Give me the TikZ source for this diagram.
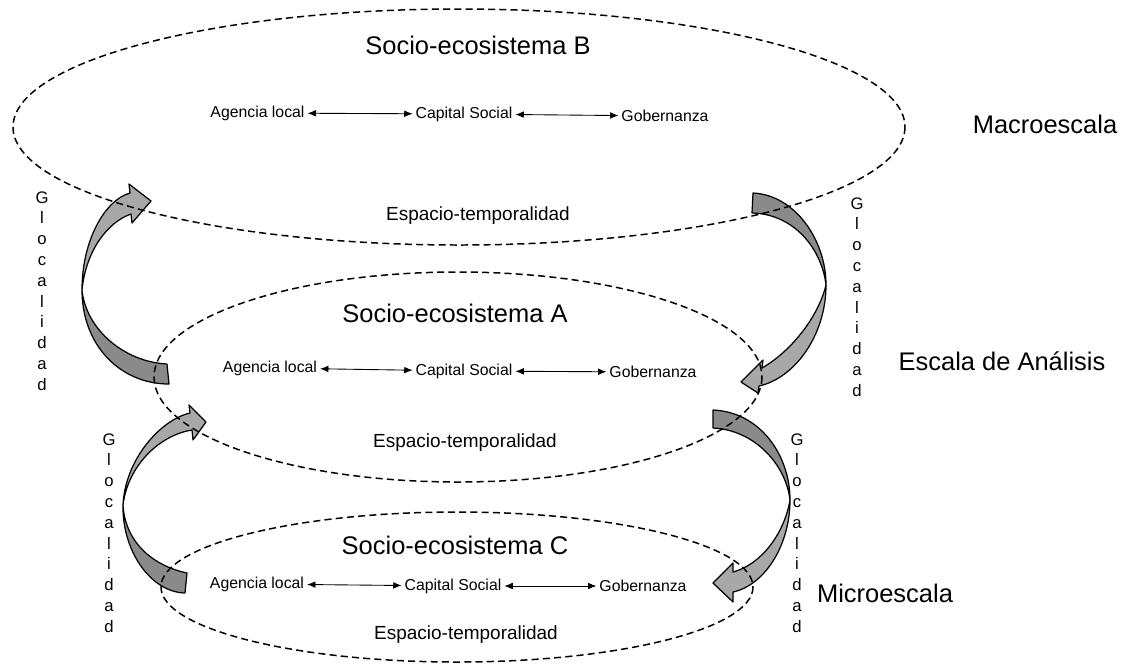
\documentclass[tikz,border=0pt]{standalone}
\usepackage{fontspec}
\setmainfont{Liberation Sans}
\usetikzlibrary{arrows.meta}
\definecolor{backgray}{HTML}{8A8A8A}
\definecolor{frontgray}{HTML}{A8A8A8}

\begin{document}
\begin{tikzpicture}[x=0.02cm, y=-0.02cm,
    ring/.style={dash pattern=on 4pt off 2.4pt, line width=0.85pt},
    systitle/.style={font=\fontsize{14.5}{17}\selectfont},
    item/.style={font=\fontsize{9}{11}\selectfont, inner sep=1.5pt},
    spacetime/.style={font=\fontsize{10.8}{13}\selectfont},
    glocal/.style={font=\fontsize{9.5}{11.85}\selectfont, align=center, inner sep=0pt},
    link/.style={{Latex[length=4.8pt,width=3.8pt]}-{Latex[length=4.8pt,width=3.8pt]}, line width=0.5pt},
    band/.style={draw, line width=0.7pt, line join=round}]
    \useasboundingbox (0,0) rectangle (1129,664);

    % Glocalidad arrows (under the ellipses)
    % left: A up to B
    \filldraw[band, fill=backgray] (167,364) .. controls (125,362) and (86,330) .. (82,290)
        .. controls (82,345) and (120,384) .. (169,384) -- cycle;
    \filldraw[band, fill=frontgray] (82,290) .. controls (82,240) and (105,200) .. (130,193)
        -- (129,184) -- (151,201) -- (132,223) -- (131,214)
        .. controls (108,222) and (86,250) .. (82,290) -- cycle;
    % right: B down to A
    \filldraw[band, fill=backgray] (753,193) .. controls (795,195) and (826,240) .. (826,285)
        .. controls (822,250) and (795,214) .. (752,213) -- cycle;
    \filldraw[band, fill=frontgray] (826,285) .. controls (826,335) and (795,378) .. (759,386)
        -- (758,393) -- (741,382) -- (763,360) -- (762,368)
        .. controls (790,352) and (818,318) .. (826,285) -- cycle;
    % left: C up to A
    \filldraw[band, fill=backgray] (187,573) .. controls (150,565) and (125,540) .. (123,505)
        .. controls (122,550) and (150,592) .. (185,593) -- cycle;
    \filldraw[band, fill=frontgray] (123,505) .. controls (125,460) and (160,420) .. (190,413)
        -- (189,405) -- (206,422) -- (193,440) -- (192,430)
        .. controls (160,435) and (128,465) .. (123,505) -- cycle;
    % right: A down to C
    \filldraw[band, fill=backgray] (713,410) .. controls (760,412) and (790,455) .. (790,500)
        .. controls (786,465) and (755,430) .. (713,428) -- cycle;
    \filldraw[band, fill=frontgray] (790,500) .. controls (790,545) and (765,585) .. (733,592)
        -- (733,602) -- (713,583) -- (733,563) -- (733,572)
        .. controls (760,565) and (784,535) .. (790,500) -- cycle;

    % Ellipses
    \draw[ring] (459,127) ellipse [x radius=446, y radius=118];
    \draw[ring] (458,377) ellipse [x radius=304, y radius=105];
    \draw[ring] (457,587) ellipse [x radius=296, y radius=75];

    % Socio-ecosistema B
    \node[systitle] (titleB) at (478,45) {Socio-ecosistema B};
    \node[item] (agB) at (257.5,113) {Agencia local};
    \node[item] (capB) at (464,114) {Capital Social};
    \node[item] (gobB) at (665,116) {Gobernanza};
    \node[spacetime] (espB) at (478,216) {Espacio-temporalidad};
    \draw[link] (agB) -- (capB);
    \draw[link] (capB) -- (gobB);

    % Socio-ecosistema A
    \node[systitle] (titleA) at (455,313) {Socio-ecosistema A};
    \node[item] (agA) at (270,368) {Agencia local};
    \node[item] (capA) at (464,371) {Capital Social};
    \node[item] (gobA) at (653,372) {Gobernanza};
    \node[spacetime] (espA) at (465,443) {Espacio-temporalidad};
    \draw[link] (agA) -- (capA);
    \draw[link] (capA) -- (gobA);

    % Socio-ecosistema C
    \node[systitle] (titleC) at (455,545) {Socio-ecosistema C};
    \node[item] (agC) at (257,584) {Agencia local};
    \node[item] (capC) at (453,586) {Capital Social};
    \node[item] (gobC) at (643,586) {Gobernanza};
    \node[spacetime] (espC) at (466,635) {Espacio-temporalidad};
    \draw[link] (agC) -- (capC);
    \draw[link] (capC) -- (gobC);

    % Scales
    \node[systitle] (macro) at (1045,124) {Macroescala};
    \node[systitle] (analisis) at (1002,361) {Escala de Análisis};
    \node[systitle] (micro) at (885,593) {Microescala};

    % Glocalidad
    \node[glocal] (glBL) at (42,291) {G\\l\\o\\c\\a\\l\\i\\d\\a\\d};
    \node[glocal] (glBR) at (857,297) {G\\l\\o\\c\\a\\l\\i\\d\\a\\d};
    \node[glocal] (glCL) at (109,533) {G\\l\\o\\c\\a\\l\\i\\d\\a\\d};
    \node[glocal] (glCR) at (797,533) {G\\l\\o\\c\\a\\l\\i\\d\\a\\d};

\end{tikzpicture}
\end{document}
